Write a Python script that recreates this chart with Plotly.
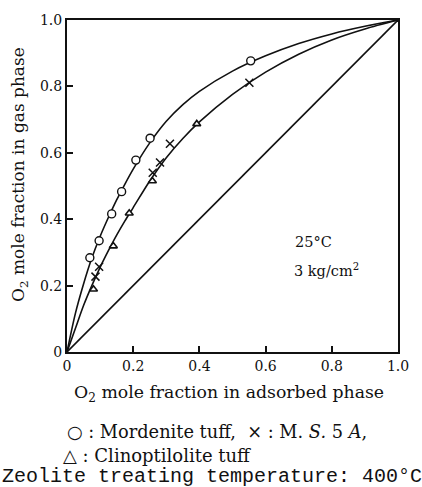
import plotly.graph_objects as go

# Data
mord_x = [0.069, 0.097, 0.135, 0.165, 0.208, 0.251, 0.555]
mord_y = [0.284, 0.335, 0.416, 0.483, 0.578, 0.644, 0.877]

ms5a_x = [0.086, 0.097, 0.259, 0.281, 0.311, 0.551]
ms5a_y = [0.227, 0.257, 0.540, 0.571, 0.627, 0.811]

clino_x = [0.080, 0.140, 0.188, 0.258, 0.392]
clino_y = [0.189, 0.319, 0.418, 0.515, 0.687]

# Curves (knots)
mord_curve_x = [0, 0.025, 0.05, 0.075, 0.1, 0.125, 0.15, 0.175, 0.2, 0.25, 0.3, 0.35, 0.4,
                0.5, 0.6, 0.7, 0.8, 0.9, 1.0]
mord_curve_y = [0, 0.115, 0.205, 0.283, 0.348, 0.405, 0.458, 0.506, 0.551, 0.630, 0.695, 0.745,
                0.785, 0.846, 0.892, 0.929, 0.958, 0.981, 1.0]

ms_curve_x = [0, 0.025, 0.05, 0.075, 0.1, 0.125, 0.15, 0.175, 0.2, 0.25, 0.3, 0.35, 0.4,
              0.5, 0.6, 0.7, 0.8, 0.9, 1.0]
ms_curve_y = [0, 0.07, 0.14, 0.20, 0.255, 0.305, 0.352, 0.395, 0.435, 0.515, 0.585, 0.643, 0.693,
              0.776, 0.843, 0.897, 0.940, 0.973, 1.0]

diag_x = [0, 1]
diag_y = [0, 1]

tick_vals = [0, 0.2, 0.4, 0.6, 0.8, 1.0]
tick_text = ["0", "0.2", "0.4", "0.6", "0.8", "1.0"]

SERIF = "DejaVu Serif"
BLACK = "#111111"

fig = go.Figure()
curve_line = dict(color=BLACK, width=1.6, shape="spline", smoothing=0.8)
fig.add_trace(go.Scatter(x=mord_curve_x, y=mord_curve_y, mode="lines",
                         line=curve_line, hoverinfo="skip"))
fig.add_trace(go.Scatter(x=ms_curve_x, y=ms_curve_y, mode="lines",
                         line=curve_line, hoverinfo="skip"))
fig.add_trace(go.Scatter(x=diag_x, y=diag_y, mode="lines",
                         line=dict(color=BLACK, width=1.6), hoverinfo="skip"))

fig.add_trace(go.Scatter(x=mord_x, y=mord_y, mode="markers", name="Mordenite tuff",
                         marker=dict(symbol="circle", size=8, color="white",
                                     line=dict(color=BLACK, width=1.4))))
fig.add_trace(go.Scatter(x=ms5a_x, y=ms5a_y, mode="markers", name="M.S. 5A",
                         marker=dict(symbol="x-thin", size=8,
                                     line=dict(color=BLACK, width=1.5))))
fig.add_trace(go.Scatter(x=clino_x, y=clino_y, mode="markers", name="Clinoptilolite tuff",
                         marker=dict(symbol="triangle-up", size=7, color="white",
                                     line=dict(color=BLACK, width=1.6))))

axis_common = dict(range=[0, 1], tickvals=tick_vals, ticktext=tick_text,
                   ticks="inside", ticklen=6, tickwidth=1.5, tickcolor=BLACK,
                   showline=True, linecolor=BLACK, linewidth=2, mirror=True,
                   showgrid=False, zeroline=False,
                   tickfont=dict(family=SERIF, size=14, color=BLACK))
fig.update_xaxes(**axis_common)
fig.update_yaxes(**axis_common)


def px_x(p):
    return (p - 67) / 331


def px_y(p):
    return (352 - p) / 332


annotations = [
    dict(text="O<sub>2</sub> mole fraction in adsorbed phase", xref="paper", yref="paper",
         x=px_x(229), y=px_y(393), showarrow=False, xanchor="center", yanchor="middle",
         font=dict(family=SERIF, size=17.3, color=BLACK)),
    dict(text="O<sub>2</sub> mole fraction in gas phase", xref="paper", yref="paper",
         x=px_x(19), y=px_y(175), showarrow=False, textangle=-90, xanchor="center", yanchor="middle",
         font=dict(family=SERIF, size=17, color=BLACK)),
    dict(text="25°C", xref="x", yref="y", x=0.683, y=0.331, showarrow=False,
         xanchor="left", yanchor="middle", font=dict(family=SERIF, size=14.5, color=BLACK)),
    dict(text="3 kg/cm<sup>2</sup>", xref="x", yref="y", x=0.68, y=0.247, showarrow=False,
         xanchor="left", yanchor="middle", font=dict(family=SERIF, size=14.5, color=BLACK)),
    dict(text="○ : Mordenite tuff,  × : M. <i>S.</i> 5 <i>A</i>,", xref="paper", yref="paper",
         x=px_x(65), y=px_y(432), showarrow=False, xanchor="left", yanchor="middle",
         font=dict(family=SERIF, size=17.8, color=BLACK)),
    dict(text="△ : Clinoptilolite tuff", xref="paper", yref="paper",
         x=px_x(61), y=px_y(456), showarrow=False, xanchor="left", yanchor="middle",
         font=dict(family=SERIF, size=18, color=BLACK)),
    dict(text="Zeolite treating temperature: 400°C", xref="paper", yref="paper",
         x=px_x(212), y=px_y(476), showarrow=False, xanchor="center", yanchor="middle",
         font=dict(family="Liberation Mono", size=20, color=BLACK)),
]

fig.update_layout(width=422, height=487,
                  margin=dict(l=67, r=24, t=20, b=135),
                  paper_bgcolor="white", plot_bgcolor="white",
                  showlegend=False, annotations=annotations)

fig.write_html("out.html")
